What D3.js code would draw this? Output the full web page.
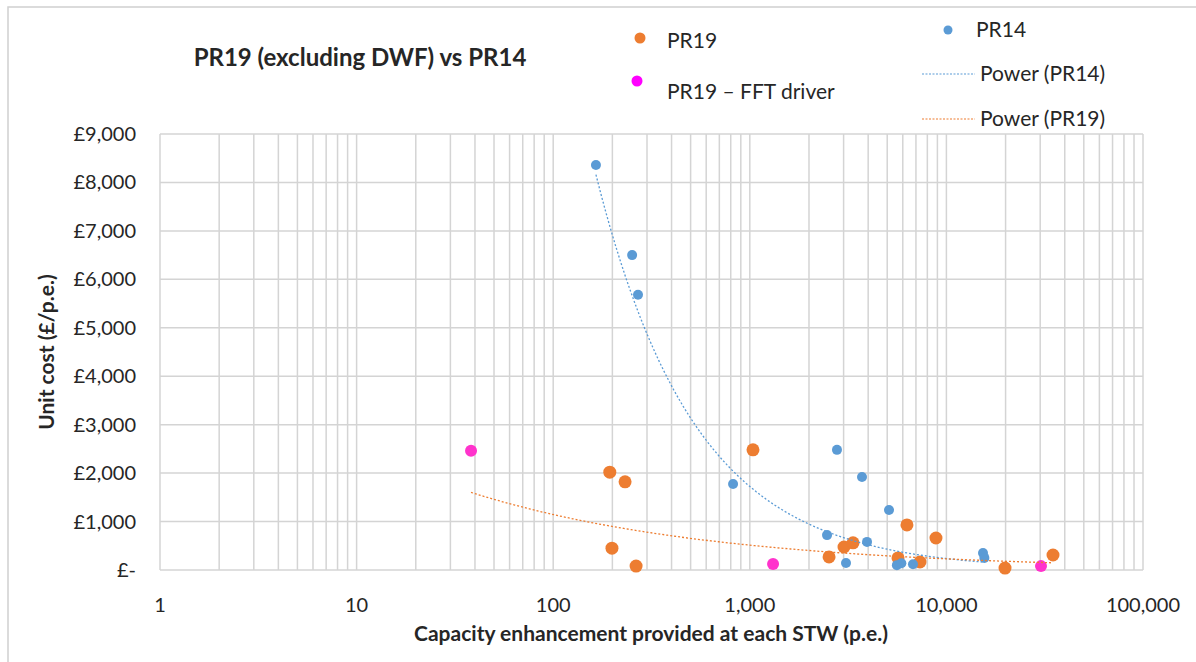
<!DOCTYPE html>
<html>
<head>
<meta charset="utf-8">
<script src="https://cdn.jsdelivr.net/npm/d3@7"></script>
<style>
  body { margin: 0; background: #ffffff; }
  svg { display: block; font-family: Lato, 'Open Sans', sans-serif; }
</style>
</head>
<body>
<div id="chart"></div>
<script>
// data (x = p.e., y = £/p.e.)
const pr19X = [194, 232, 199, 264, 1038, 2530, 3014, 3350, 6300, 8850, 5675, 7340, 19870, 34850];
const pr19Y = [2020, 1820, 450, 80, 2480, 270, 475, 560, 930, 660, 250, 165, 40, 310];

const pr14X = [165, 252, 270, 822, 2776, 3722, 5106, 2471, 3947, 3086, 5600, 5900, 6761, 15350, 15600];
const pr14Y = [8360, 6500, 5680, 1775, 2480, 1920, 1240, 720, 580, 145, 100, 140, 120, 350, 250];

const fftX = [38.2, 1313, 30280];
const fftY = [2460, 125, 80];

const yTicks = [0, 1000, 2000, 3000, 4000, 5000, 6000, 7000, 8000, 9000];
const xTicks = [1, 10, 100, 1000, 10000, 100000];

const orange = '#ED7D31', blue = '#5B9BD5', magenta = '#FF33CC', grid = '#d4d4d4';

const W = 1196, H = 662;
const plot = {left: 160, right: 1143, top: 134, bottom: 570};

const svg = d3.select('#chart').append('svg')
    .attr('width', W)
    .attr('height', H);

// outer chart frame (runs off the right / bottom edge)
svg.append('rect')
    .attr('x', 8).attr('y', 7)
    .attr('width', W + 20).attr('height', H + 20)
    .attr('fill', 'none')
    .attr('stroke', '#d0d0d0')
    .attr('stroke-width', 1.5);

const x = d3.scaleLog().domain([1, 100000]).range([plot.left, plot.right]);
const y = d3.scaleLinear().domain([0, 9000]).range([plot.bottom, plot.top]);

// log gridlines: every 1..9 within each decade
const xGrid = [];
for (let d = 1; d < 100000; d *= 10) {
    for (let k = 1; k < 10; k++) xGrid.push(d * k);
}
xGrid.push(100000);

svg.append('g').selectAll('line')
    .data(xGrid)
    .enter().append('line')
    .attr('x1', d => x(d)).attr('x2', d => x(d))
    .attr('y1', plot.top).attr('y2', plot.bottom)
    .attr('stroke', grid).attr('stroke-width', 1.5);

svg.append('g').selectAll('line')
    .data(yTicks)
    .enter().append('line')
    .attr('x1', plot.left).attr('x2', plot.right)
    .attr('y1', d => y(d)).attr('y2', d => y(d))
    .attr('stroke', grid).attr('stroke-width', 1.5);

// y tick labels
const fmt = d3.format(',');
svg.append('g').selectAll('text')
    .data(yTicks)
    .enter().append('text')
    .attr('x', 136)
    .attr('y', d => y(d) + 7)
    .attr('text-anchor', 'end')
    .attr('font-size', 20)
    .attr('fill', '#262626')
    .text(d => d === 0 ? '£-' : '£' + fmt(d));

// x tick labels
svg.append('g').selectAll('text')
    .data(xTicks)
    .enter().append('text')
    .attr('x', d => x(d))
    .attr('y', 612)
    .attr('text-anchor', 'middle')
    .attr('font-size', 20)
    .attr('fill', '#262626')
    .text(d => fmt(d));

// axis titles
svg.append('text')
    .attr('transform', 'translate(54,352) rotate(-90)')
    .attr('text-anchor', 'middle')
    .attr('font-size', 21)
    .attr('font-weight', 'bold')
    .attr('fill', '#262626')
    .text('Unit  cost (£/p.e.)');

svg.append('text')
    .attr('x', 651).attr('y', 641)
    .attr('text-anchor', 'middle')
    .attr('font-size', 21)
    .attr('font-weight', 'bold')
    .attr('fill', '#262626')
    .text('Capacity enhancement provided at each STW (p.e.)');

// title
svg.append('text')
    .attr('x', 360).attr('y', 66)
    .attr('text-anchor', 'middle')
    .attr('font-size', 24)
    .attr('font-weight', 'bold')
    .attr('fill', '#262626')
    .text('PR19 (excluding DWF) vs PR14');

// points
function dots(xs, ys, color, r) {
    svg.append('g').selectAll('circle')
        .data(xs.map((v, i) => [v, ys[i]]))
        .enter().append('circle')
        .attr('cx', d => x(d[0]))
        .attr('cy', d => y(d[1]))
        .attr('r', r)
        .attr('fill', color);
}
dots(pr19X, pr19Y, orange, 6.5);
dots(pr14X, pr14Y, blue, 5);
dots(fftX, fftY, magenta, 6);

// power trendline = least squares fit in log-log space
function powerFit(xs, ys) {
    const lx = xs.map(Math.log), ly = ys.map(Math.log);
    const mx = d3.mean(lx), my = d3.mean(ly);
    const b = d3.sum(lx, (v, i) => (v - mx) * (ly[i] - my)) / d3.sum(lx, v => (v - mx) * (v - mx));
    const a = Math.exp(my - b * mx);
    return {a: a, b: b, lo: d3.min(xs), hi: d3.max(xs)};
}

function trend(fit, color) {
    const n = 80;
    const pts = d3.range(n + 1).map(i => {
        const v = Math.exp(Math.log(fit.lo) + (Math.log(fit.hi) - Math.log(fit.lo)) * i / n);
        return [x(v), y(fit.a * Math.pow(v, fit.b))];
    });
    svg.append('path')
        .attr('d', d3.line()(pts))
        .attr('fill', 'none')
        .attr('stroke', color)
        .attr('stroke-width', 1.3)
        .attr('stroke-dasharray', '2,2');
}
trend(powerFit(pr14X, pr14Y), blue);
trend(powerFit(pr19X.concat(fftX), pr19Y.concat(fftY)), orange);

// legend
const legend = svg.append('g').attr('font-size', 21).attr('fill', '#262626');
legend.append('circle').attr('cx', 640).attr('cy', 38).attr('r', 5.5).attr('fill', orange);
legend.append('text').attr('x', 667).attr('y', 48).text('PR19');
legend.append('circle').attr('cx', 637).attr('cy', 81).attr('r', 5.5).attr('fill', '#ff00ff');
legend.append('text').attr('x', 667).attr('y', 99).text('PR19 – FFT driver');
legend.append('circle').attr('cx', 948).attr('cy', 30).attr('r', 4.5).attr('fill', blue);
legend.append('text').attr('x', 976).attr('y', 37).text('PR14');
legend.append('line').attr('x1', 922).attr('x2', 975).attr('y1', 74).attr('y2', 74)
    .attr('stroke', blue).attr('stroke-width', 1.2).attr('stroke-dasharray', '2,1.5');
legend.append('text').attr('x', 980).attr('y', 81).text('Power (PR14)');
legend.append('line').attr('x1', 922).attr('x2', 975).attr('y1', 119).attr('y2', 119)
    .attr('stroke', orange).attr('stroke-width', 1.2).attr('stroke-dasharray', '2,1.5');
legend.append('text').attr('x', 980).attr('y', 126).text('Power (PR19)');
</script>
</body>
</html>
